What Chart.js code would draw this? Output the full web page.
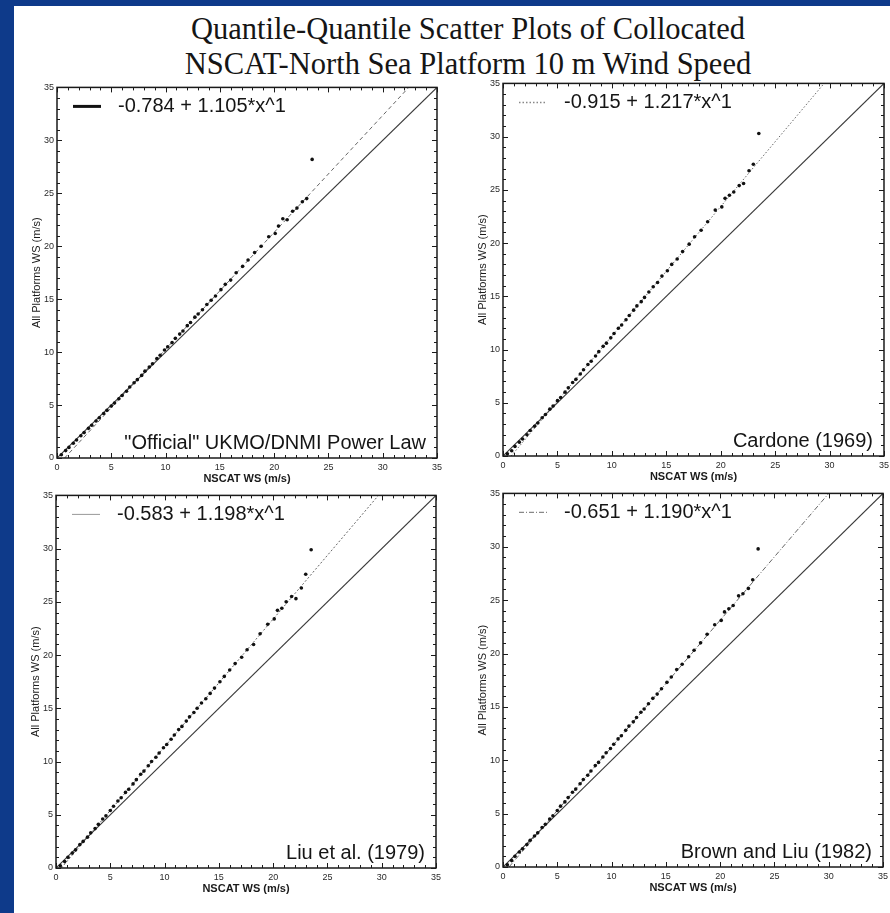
<!DOCTYPE html>
<html>
<head>
<meta charset="utf-8">
<script src="https://cdn.jsdelivr.net/npm/chart.js@4.4.0/dist/chart.umd.min.js"></script>
<style>
html, body { margin: 0; padding: 0; overflow: hidden; }
body { width: 890px; height: 913px; background: #0e3a8a; position: relative; }
#sheet { position: absolute; left: 14px; top: 6px; width: 876px; height: 907px; background: #fff; }
#title { position: absolute; left: 68px; top: 12px; width: 800px; text-align: center;
  font-family: "Liberation Serif", "Times New Roman", serif; font-size: 30.5px; line-height: 35px; color: #151515; }
canvas.panel { position: absolute; }
</style>
</head>
<body>
<div id="sheet"></div>
<div id="title">Quantile-Quantile Scatter Plots of Collocated<br>NSCAT-North Sea Platform 10 m Wind Speed</div>
<canvas id="p1" class="panel"></canvas>
<canvas id="p2" class="panel"></canvas>
<canvas id="p3" class="panel"></canvas>
<canvas id="p4" class="panel"></canvas>
<script>
// NSCAT quantiles (m/s), shared by all four panels
const nscatWS = [0.4, 0.8, 1.1, 1.5, 1.8, 2.2, 2.5, 2.9, 3.2, 3.6,
  3.9, 4.3, 4.6, 5.0, 5.3, 5.7, 6.0, 6.4, 6.7, 7.1,
  7.4, 7.8, 8.1, 8.5, 8.8, 9.2, 9.5, 9.9, 10.2, 10.6,
  10.9, 11.3, 11.6, 12.0, 12.3, 12.7, 13.0, 13.4, 13.8, 14.2,
  14.6, 15.1, 15.5, 16.0, 16.5, 17.1, 17.6, 18.2, 18.8, 19.5,
  20.1, 20.4, 20.8, 21.2, 21.7, 22.1, 22.6, 23.0, 23.5];

// platform quantiles, one list per 10 m conversion
const wsOfficial = [0.3, 0.7, 1.0, 1.4, 1.7, 2.1, 2.4, 2.8, 3.1, 3.5,
  3.8, 4.2, 4.5, 4.9, 5.2, 5.6, 5.9, 6.3, 6.7, 7.1,
  7.4, 7.8, 8.2, 8.6, 8.9, 9.4, 9.7, 10.2, 10.5, 10.9,
  11.3, 11.7, 12.0, 12.5, 12.8, 13.3, 13.6, 14.0, 14.5, 14.9,
  15.3, 15.9, 16.4, 16.8, 17.5, 18.1, 18.7, 19.4, 20.0, 20.9,
  21.2, 21.9, 22.6, 22.5, 23.3, 23.6, 24.2, 24.5, 28.2];
const wsCardone = [0.2, 0.5, 0.9, 1.3, 1.6, 2.0, 2.4, 2.8, 3.1, 3.6,
  3.9, 4.4, 4.7, 5.2, 5.5, 6.0, 6.4, 6.9, 7.2, 7.7,
  8.1, 8.6, 8.9, 9.4, 9.8, 10.3, 10.6, 11.1, 11.5, 12.0,
  12.3, 12.8, 13.2, 13.7, 14.1, 14.5, 14.9, 15.4, 15.9, 16.3,
  16.9, 17.4, 18.0, 18.5, 19.2, 19.9, 20.6, 21.2, 22.0, 23.1,
  23.4, 24.2, 24.5, 24.8, 25.4, 25.6, 26.8, 27.4, 30.3];
const wsLiu = [0.2, 0.6, 1.0, 1.4, 1.7, 2.2, 2.5, 2.9, 3.3, 3.7,
  4.1, 4.6, 4.9, 5.4, 5.8, 6.3, 6.6, 7.1, 7.4, 7.9,
  8.3, 8.8, 9.1, 9.6, 10.0, 10.4, 10.8, 11.3, 11.6, 12.1,
  12.5, 13.0, 13.3, 13.8, 14.2, 14.6, 15.0, 15.5, 15.9, 16.4,
  16.9, 17.5, 18.0, 18.6, 19.2, 19.8, 20.5, 21.0, 22.0, 22.9,
  23.4, 24.2, 24.4, 25.0, 25.5, 25.3, 26.3, 27.6, 29.9];
const wsBrownLiu = [0.2, 0.6, 1.0, 1.4, 1.7, 2.1, 2.5, 2.9, 3.2, 3.7,
  4.0, 4.5, 4.8, 5.3, 5.7, 6.1, 6.5, 7.0, 7.3, 7.8,
  8.2, 8.6, 9.0, 9.5, 9.8, 10.3, 10.7, 11.1, 11.5, 12.0,
  12.3, 12.8, 13.2, 13.6, 14.0, 14.5, 14.8, 15.3, 15.8, 16.2,
  16.7, 17.3, 17.8, 18.5, 19.0, 19.7, 20.3, 21.0, 21.8, 22.7,
  23.1, 23.9, 24.2, 24.5, 25.4, 25.6, 26.1, 26.9, 29.8];

// fitted lines, read where they leave the frame
const fitOfficial = [[0.7, 0], [32.4, 35]];
const fitCardone = [[0.75, 0], [29.5, 35]];
const fitLiu = [[0.49, 0], [29.7, 35]];
const fitBrownLiu = [[0.55, 0], [30.0, 35]];
const oneToOne = [[0, 0], [35, 35]];

const fitLabels = ['-0.784 + 1.105*x^1', '-0.915 + 1.217*x^1', '-0.583 + 1.198*x^1', '-0.651 + 1.190*x^1'];
const methodNames = ['"Official" UKMO/DNMI Power Law', 'Cardone (1969)', 'Liu et al. (1979)', 'Brown and Liu (1982)'];
const axisTicks = [0, 5, 10, 15, 20, 25, 30, 35];

const toPts = arr => arr.map(p => ({x: p[0], y: p[1]}));

const frame = {
  id: 'frame',
  afterDraw(chart, args, o) {
    const {ctx, chartArea: a, scales: {x, y}} = chart;
    ctx.save();
    ctx.strokeStyle = '#1a1a1a';
    ctx.lineWidth = 1.5;
    ctx.strokeRect(a.left, a.top, a.right - a.left, a.bottom - a.top);
    ctx.lineWidth = 1;
    ctx.beginPath();
    for (let v = 0; v <= 35; v++) {
      const len = v % 5 === 0 ? 5 : 3;
      const px = Math.round(x.getPixelForValue(v)) + 0.5;
      const py = Math.round(y.getPixelForValue(v)) + 0.5;
      ctx.moveTo(px, a.bottom); ctx.lineTo(px, a.bottom - len);
      ctx.moveTo(px, a.top); ctx.lineTo(px, a.top + len);
      ctx.moveTo(a.left, py); ctx.lineTo(a.left + len, py);
      ctx.moveTo(a.right, py); ctx.lineTo(a.right - len, py);
    }
    ctx.stroke();

    // legend entry
    const ly = a.top + 19;
    ctx.strokeStyle = o.sample.color;
    ctx.lineWidth = o.sample.width;
    ctx.setLineDash(o.sample.dash);
    ctx.beginPath();
    ctx.moveTo(a.left + 16, ly); ctx.lineTo(a.left + 44, ly);
    ctx.stroke();
    ctx.setLineDash([]);
    ctx.fillStyle = '#151515';
    ctx.font = '20px "Liberation Sans", Arial, sans-serif';
    ctx.textBaseline = 'middle';
    ctx.textAlign = 'left';
    ctx.fillText(o.label, a.left + 61, ly);

    // method name
    ctx.textAlign = 'right';
    ctx.fillText(o.method, a.right - 11, a.bottom - 15);
    ctx.restore();
  }
};

function axis(title, isY) {
  return {
    type: 'linear', min: 0, max: 35,
    afterBuildTicks: s => { s.ticks = axisTicks.map(v => ({value: v})); },
    ticks: {color: '#2a2a2a', font: {family: 'Liberation Sans', size: 9}, padding: isY ? 3 : 4,
      autoSkip: false, maxRotation: 0},
    grid: {display: false, drawTicks: false},
    border: {display: false},
    title: {display: true, text: title, color: '#1a1a1a',
      font: {family: 'Liberation Sans', size: 11, weight: isY ? 'normal' : 'bold'},
      padding: isY ? {top: 3, bottom: 0} : {top: 0, bottom: 2}},
    afterFit: s => { if (isY) s.width = 30; else s.height = 30; }
  };
}

function buildPanel(id, box, ws, fit, k, fitDash, sample) {
  const [L, T, R, B] = box;
  const canvas = document.getElementById(id);
  canvas.width = R - L + 38;
  canvas.height = B - T + 38;
  canvas.style.left = (L - 30) + 'px';
  canvas.style.top = (T - 8) + 'px';
  new Chart(canvas, {
    type: 'scatter',
    data: {
      datasets: [
        {data: nscatWS.map((x, i) => ({x: x, y: ws[i]})), pointRadius: 1.8,
          pointBackgroundColor: '#111', pointBorderWidth: 0},
        {data: toPts(fit), showLine: true, pointRadius: 0, borderColor: '#666',
          borderWidth: 1, borderDash: fitDash},
        {data: toPts(oneToOne), showLine: true, pointRadius: 0, borderColor: '#3a3a3a', borderWidth: 1.1}
      ]
    },
    options: {
      responsive: false, animation: false, devicePixelRatio: 1,
      layout: {padding: {top: 8, right: 8, left: 0, bottom: 0}},
      scales: {x: axis('NSCAT WS (m/s)', false), y: axis('All Platforms WS (m/s)', true)},
      plugins: {legend: {display: false}, tooltip: {enabled: false},
        frame: {label: fitLabels[k], method: methodNames[k], sample: sample}}
    },
    plugins: [frame]
  });
}

buildPanel('p1', [57, 87, 438, 458], wsOfficial, fitOfficial, 0, [4, 3], {dash: [], width: 3, color: '#111'});
buildPanel('p2', [503, 83, 885, 456], wsCardone, fitCardone, 1, [1.5, 2], {dash: [1.5, 2], width: 1.5, color: '#888'});
buildPanel('p3', [56, 495, 437, 868], wsLiu, fitLiu, 2, [2, 2], {dash: [], width: 1, color: '#999'});
buildPanel('p4', [503, 493, 884, 867], wsBrownLiu, fitBrownLiu, 3, [5, 2, 1, 2], {dash: [5, 2, 1, 2], width: 1.2, color: '#888'});
</script>
</body>
</html>
